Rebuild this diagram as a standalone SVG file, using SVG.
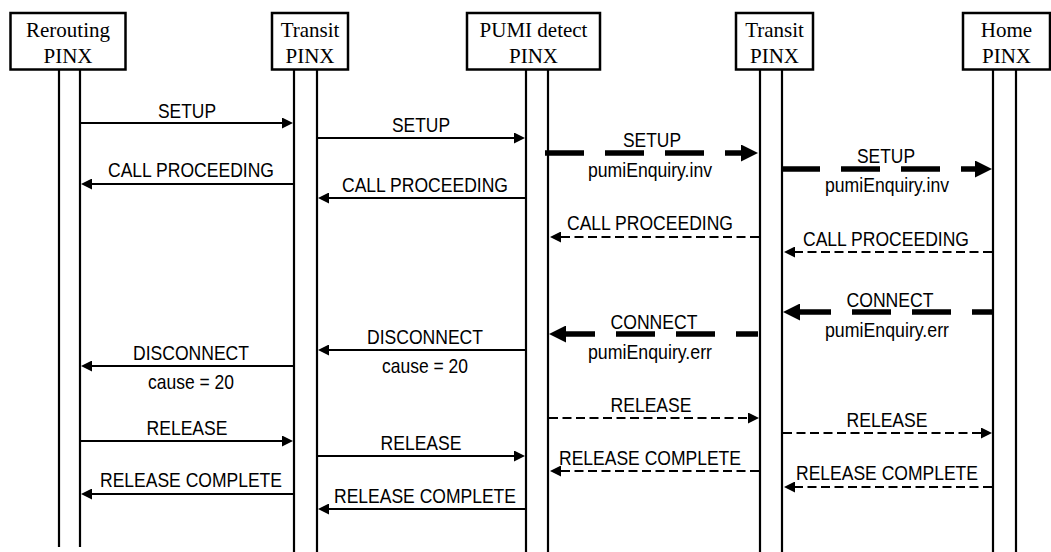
<svg xmlns="http://www.w3.org/2000/svg" width="1051" height="552" viewBox="0 0 1051 552">
  <style>
    .box { fill: #fff; stroke: #000; stroke-width: 2.5; }
    .life { stroke: #000; stroke-width: 2.2; fill: none; }
    .hdr { font-family: "Liberation Serif", "Times New Roman", serif; font-size: 21px; text-anchor: middle; fill: #000; }
    .lbl { font-family: "Liberation Sans", Arial, sans-serif; font-size: 21px; text-anchor: middle; fill: #000; }
    .solid { stroke: #000; stroke-width: 1.8; fill: none; }
    .dash { stroke: #000; stroke-width: 2; fill: none; stroke-dasharray: 9 4.5; }
    .bold { stroke: #000; stroke-width: 5.5; fill: none; stroke-dasharray: 39 21; }
  </style>
  <defs>
    <marker id="ah" viewBox="0 0 11 11" refX="9" refY="5.5" markerWidth="11" markerHeight="11" markerUnits="userSpaceOnUse" orient="auto">
      <path d="M0,0 L11,5.5 L0,11 z" fill="#000"/>
    </marker>
    <marker id="ahb" viewBox="0 0 17 17" refX="7" refY="8.5" markerWidth="17" markerHeight="17" markerUnits="userSpaceOnUse" orient="auto">
      <path d="M0,0 L17,8.5 L0,17 z" fill="#000"/>
    </marker>
  </defs>

  <g id="node-rerouting">
    <rect class="box" x="10.5" y="13" width="115" height="56.5"/>
    <text class="hdr" x="68" y="37">Rerouting</text>
    <text class="hdr" x="68" y="63">PINX</text>
    <line class="life" x1="59" y1="70" x2="59" y2="547"/>
    <line class="life" x1="80" y1="70" x2="80" y2="547"/>
  </g>
  <g id="node-transit1">
    <rect class="box" x="272" y="13" width="76" height="56.5"/>
    <text class="hdr" x="310" y="37">Transit</text>
    <text class="hdr" x="310" y="63">PINX</text>
    <line class="life" x1="294" y1="70" x2="294" y2="552"/>
    <line class="life" x1="317" y1="70" x2="317" y2="552"/>
  </g>
  <g id="node-pumi">
    <rect class="box" x="467" y="13" width="133" height="56.5"/>
    <text class="hdr" x="533.5" y="37">PUMI detect</text>
    <text class="hdr" x="533.5" y="63">PINX</text>
    <line class="life" x1="526" y1="70" x2="526" y2="552"/>
    <line class="life" x1="548" y1="70" x2="548" y2="552"/>
  </g>
  <g id="node-transit2">
    <rect class="box" x="736" y="13" width="77" height="56.5"/>
    <text class="hdr" x="774.5" y="37">Transit</text>
    <text class="hdr" x="774.5" y="63">PINX</text>
    <line class="life" x1="760" y1="70" x2="760" y2="552"/>
    <line class="life" x1="782" y1="70" x2="782" y2="552"/>
  </g>
  <g id="node-home">
    <rect class="box" x="963" y="13" width="87" height="56.5"/>
    <text class="hdr" x="1006.5" y="37">Home</text>
    <text class="hdr" x="1006.5" y="63">PINX</text>
    <line class="life" x1="993" y1="70" x2="993" y2="552"/>
    <line class="life" x1="1016" y1="70" x2="1016" y2="552"/>
  </g>

  <g id="connectors">
    <!-- Column A: Rerouting <-> Transit1 -->
    <line class="solid" x1="81" y1="123" x2="291" y2="123" marker-end="url(#ah)"/>
    <text class="lbl" x="187" y="118" textLength="58" lengthAdjust="spacingAndGlyphs">SETUP</text>
    <line class="solid" x1="293" y1="184" x2="83" y2="184" marker-end="url(#ah)"/>
    <text class="lbl" x="191" y="177" textLength="166" lengthAdjust="spacingAndGlyphs">CALL PROCEEDING</text>
    <line class="solid" x1="293" y1="366" x2="83" y2="366" marker-end="url(#ah)"/>
    <text class="lbl" x="191" y="360" textLength="116" lengthAdjust="spacingAndGlyphs">DISCONNECT</text>
    <text class="lbl" x="191" y="389" textLength="86" lengthAdjust="spacingAndGlyphs">cause = 20</text>
    <line class="solid" x1="81" y1="441" x2="291" y2="441" marker-end="url(#ah)"/>
    <text class="lbl" x="187" y="435" textLength="81" lengthAdjust="spacingAndGlyphs">RELEASE</text>
    <line class="solid" x1="293" y1="494" x2="83" y2="494" marker-end="url(#ah)"/>
    <text class="lbl" x="191" y="487" textLength="182" lengthAdjust="spacingAndGlyphs">RELEASE COMPLETE</text>

    <!-- Column B: Transit1 <-> PUMI detect -->
    <line class="solid" x1="318" y1="138" x2="523" y2="138" marker-end="url(#ah)"/>
    <text class="lbl" x="421" y="132" textLength="58" lengthAdjust="spacingAndGlyphs">SETUP</text>
    <line class="solid" x1="525" y1="198" x2="320" y2="198" marker-end="url(#ah)"/>
    <text class="lbl" x="425" y="192" textLength="166" lengthAdjust="spacingAndGlyphs">CALL PROCEEDING</text>
    <line class="solid" x1="525" y1="350" x2="320" y2="350" marker-end="url(#ah)"/>
    <text class="lbl" x="425" y="344" textLength="116" lengthAdjust="spacingAndGlyphs">DISCONNECT</text>
    <text class="lbl" x="425" y="373" textLength="86" lengthAdjust="spacingAndGlyphs">cause = 20</text>
    <line class="solid" x1="318" y1="456" x2="523" y2="456" marker-end="url(#ah)"/>
    <text class="lbl" x="421" y="450" textLength="81" lengthAdjust="spacingAndGlyphs">RELEASE</text>
    <line class="solid" x1="525" y1="509" x2="320" y2="509" marker-end="url(#ah)"/>
    <text class="lbl" x="425" y="503" textLength="182" lengthAdjust="spacingAndGlyphs">RELEASE COMPLETE</text>

    <!-- Column C: PUMI detect <-> Transit2 -->
    <line class="bold" x1="545" y1="153" x2="748" y2="153" marker-end="url(#ahb)"/>
    <text class="lbl" x="652" y="147" textLength="58" lengthAdjust="spacingAndGlyphs">SETUP</text>
    <text class="lbl" x="650" y="177" textLength="124" lengthAdjust="spacingAndGlyphs">pumiEnquiry.inv</text>
    <line class="dash" x1="759" y1="237" x2="552" y2="237" marker-end="url(#ah)"/>
    <text class="lbl" x="650" y="230" textLength="166" lengthAdjust="spacingAndGlyphs">CALL PROCEEDING</text>
    <path class="bold" d="M556,334 L758,334"/>
    <line x1="560" y1="334" x2="559" y2="334" stroke="#000" stroke-width="5.5" marker-end="url(#ahb)"/>
    <text class="lbl" x="654" y="329" textLength="87" lengthAdjust="spacingAndGlyphs">CONNECT</text>
    <text class="lbl" x="650" y="359" textLength="124" lengthAdjust="spacingAndGlyphs">pumiEnquiry.err</text>
    <line class="dash" x1="549" y1="418" x2="757" y2="418" marker-end="url(#ah)"/>
    <text class="lbl" x="651" y="412" textLength="81" lengthAdjust="spacingAndGlyphs">RELEASE</text>
    <line class="dash" x1="759" y1="471" x2="552" y2="471" marker-end="url(#ah)"/>
    <text class="lbl" x="650" y="465" textLength="182" lengthAdjust="spacingAndGlyphs">RELEASE COMPLETE</text>

    <!-- Column D: Transit2 <-> Home -->
    <line class="bold" x1="781" y1="169" x2="982" y2="169" marker-end="url(#ahb)"/>
    <text class="lbl" x="886" y="163" textLength="58" lengthAdjust="spacingAndGlyphs">SETUP</text>
    <text class="lbl" x="887" y="192" textLength="124" lengthAdjust="spacingAndGlyphs">pumiEnquiry.inv</text>
    <line class="dash" x1="992" y1="252" x2="786" y2="252" marker-end="url(#ah)"/>
    <text class="lbl" x="886" y="246" textLength="166" lengthAdjust="spacingAndGlyphs">CALL PROCEEDING</text>
    <path class="bold" d="M792,312 L993,312"/>
    <line x1="794" y1="312" x2="793" y2="312" stroke="#000" stroke-width="5.5" marker-end="url(#ahb)"/>
    <text class="lbl" x="890" y="307" textLength="87" lengthAdjust="spacingAndGlyphs">CONNECT</text>
    <text class="lbl" x="887" y="337" textLength="124" lengthAdjust="spacingAndGlyphs">pumiEnquiry.err</text>
    <line class="dash" x1="783" y1="433" x2="990" y2="433" marker-end="url(#ah)"/>
    <text class="lbl" x="887" y="427" textLength="81" lengthAdjust="spacingAndGlyphs">RELEASE</text>
    <line class="dash" x1="992" y1="487" x2="786" y2="487" marker-end="url(#ah)"/>
    <text class="lbl" x="887" y="480" textLength="182" lengthAdjust="spacingAndGlyphs">RELEASE COMPLETE</text>
  </g>
</svg>
